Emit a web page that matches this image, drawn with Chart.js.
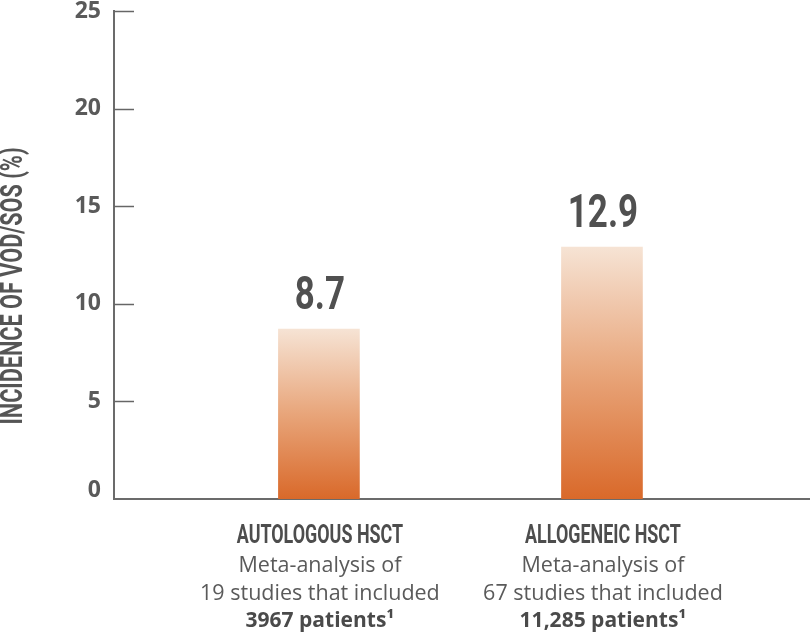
<!DOCTYPE html>
<html>
<head>
<meta charset="utf-8">
<script src="https://cdn.jsdelivr.net/npm/chart.js@4.4.1/dist/chart.umd.min.js"></script>
<style>
  html, body { margin: 0; padding: 0; background: #ffffff; }
  #wrap { width: 810px; height: 634px; }
</style>
</head>
<body>
<div id="wrap"><canvas id="c" width="810" height="634"></canvas></div>
<script>
// ---- data ----
const categories = ["AUTOLOGOUS HSCT", "ALLOGENEIC HSCT"];
const categoryPositions = [1, 2];
const incidence = [8.7, 12.9];
const descLine1 = ["Meta-analysis of", "Meta-analysis of"];
const descLine2 = ["19 studies that included", "67 studies that included"];
const descLine3 = ["3967 patients\u00B9", "11,285 patients\u00B9"];
const yTicks = [0, 5, 10, 15, 20, 25];
const yTitle = "INCIDENCE OF VOD/SOS (%)";

// ---- helpers ----
function drawSqueezed(ctx, text, x, y, font, squeeze, align) {
  ctx.save();
  ctx.font = font;
  ctx.textAlign = align || 'center';
  ctx.translate(x, y);
  ctx.scale(squeeze, 1);
  ctx.fillText(text, 0, 0);
  ctx.restore();
}

const customDraw = {
  id: 'customDraw',
  afterDraw(chart) {
    const ctx = chart.ctx;
    const xs = chart.scales.x, ys = chart.scales.y;
    const area = chart.chartArea;
    // inward tick marks
    ctx.save();
    ctx.strokeStyle = '#666666';
    ctx.lineWidth = 1.5;
    yTicks.forEach(v => {
      if (v === 0) return;
      const py = Math.round(ys.getPixelForValue(v)) + 0.5;
      ctx.beginPath();
      ctx.moveTo(area.left, py);
      ctx.lineTo(area.left + 20, py);
      ctx.stroke();
    });
    // zero label sits slightly above the baseline
    ctx.fillStyle = '#5a5a5a';
    ctx.font = 'bold 23px "Open Sans"';
    ctx.textAlign = 'right';
    ctx.textBaseline = 'middle';
    ctx.fillText(String(yTicks[0]), area.left - 13, ys.getPixelForValue(0) - 9);
    ctx.restore();

    // value labels above bars
    ctx.save();
    ctx.fillStyle = '#505050';
    ctx.textBaseline = 'alphabetic';
    incidence.forEach((v, i) => {
      const px = xs.getPixelForValue(categoryPositions[i]);
      const py = ys.getPixelForValue(v) - 20;
      drawSqueezed(ctx, String(v), px + 1, py, 'bold 46px Roboto', 0.76, 'center');
    });
    ctx.restore();

    // category labels
    ctx.save();
    ctx.textBaseline = 'alphabetic';
    categories.forEach((c, i) => {
      const cx = xs.getPixelForValue(categoryPositions[i]) + 1;
      const base = area.bottom;
      ctx.fillStyle = '#4d4d4d';
      drawSqueezed(ctx, c, cx, base + 44, 'bold 25px Roboto', 0.716, 'center');
      ctx.fillStyle = '#5a5a5a';
      ctx.font = '21.5px "Open Sans"';
      ctx.textAlign = 'center';
      ctx.fillText(descLine1[i], cx, base + 73);
      ctx.fillText(descLine2[i], cx, base + 101);
      ctx.fillStyle = '#4a4a4a';
      ctx.font = 'bold 21px "Open Sans"';
      ctx.fillText(descLine3[i], cx, base + 128);
    });
    ctx.restore();

    // y axis title (rotated)
    ctx.save();
    ctx.fillStyle = '#555555';
    ctx.translate(14, area.bottom - 213);
    ctx.rotate(-Math.PI / 2);
    ctx.textBaseline = 'middle';
    ctx.font = 'bold 31px Roboto';
    const w = ctx.measureText(yTitle).width;
    const sq = 277 / w;
    ctx.scale(sq, 1);
    ctx.textAlign = 'center';
    ctx.fillText(yTitle, 0, 0);
    ctx.restore();
  }
};

function barGradient(context) {
  const chart = context.chart;
  const area = chart.chartArea;
  if (!area || !chart.scales.y) return '#e7a67e';
  const ys = chart.scales.y;
  const top = ys.getPixelForValue(incidence[context.dataIndex]);
  const bottom = ys.getPixelForValue(0);
  const g = chart.ctx.createLinearGradient(0, top, 0, bottom);
  g.addColorStop(0, '#f6e3d4');
  g.addColorStop(0.5, '#e8a57a');
  g.addColorStop(1, '#d9692a');
  return g;
}

new Chart(document.getElementById('c'), {
  type: 'bar',
  data: {
    datasets: [{
      data: categoryPositions.map((p, i) => ({ x: p, y: incidence[i] })),
      backgroundColor: barGradient,
      borderWidth: 0,
      barThickness: 81
    }]
  },
  options: {
    responsive: false,
    animation: false,
    devicePixelRatio: 1,
    layout: { padding: { top: 11, right: 0, left: 0, bottom: 0 } },
    plugins: { legend: { display: false }, tooltip: { enabled: false } },
    scales: {
      x: {
        type: 'linear',
        offset: false,
        min: 0.276,
        max: 2.735,
        grid: { display: false, drawTicks: false },
        ticks: { display: false },
        border: { display: true, color: '#6b6b6b', width: 2 },
        afterFit(scale) { scale.height = 135; }
      },
      y: {
        min: 0,
        max: 25,
        afterBuildTicks(scale) { scale.ticks = yTicks.map(v => ({ value: v })); },
        grid: { display: false, drawTicks: false },
        border: { display: true, color: '#6b6b6b', width: 2 },
        ticks: {
          padding: 13,
          color: '#5a5a5a',
          font: { family: '"Open Sans"', size: 23, weight: 'bold' },
          callback: (v) => (v === 0 ? '' : String(v))
        },
        afterFit(scale) { scale.width = 114; scale.paddingTop = 0; scale.paddingBottom = 0; }
      }
    }
  },
  plugins: [customDraw]
});
</script>
</body>
</html>
